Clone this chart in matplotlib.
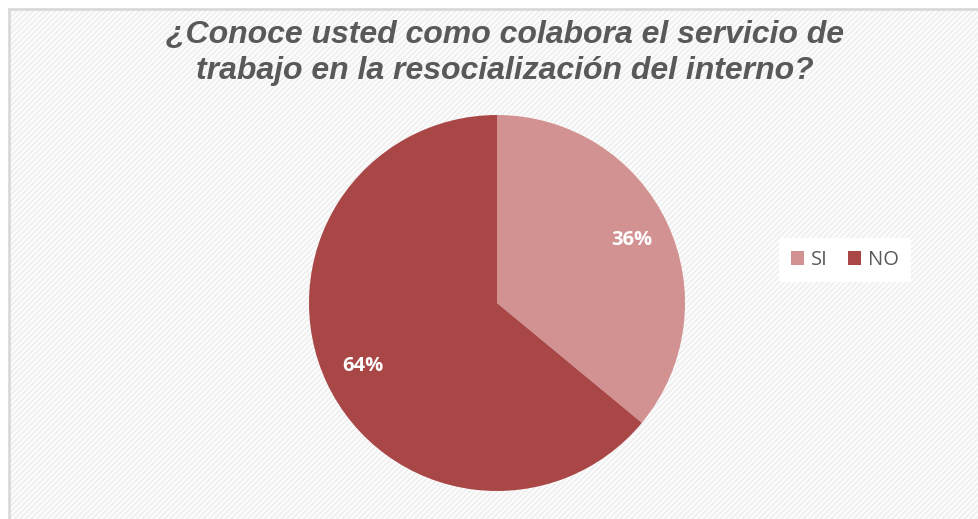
import matplotlib.pyplot as plt
from matplotlib.patches import Rectangle

# data
labels = ["SI", "NO"]
values = [36, 64]
colors = ["#d39292", "#a94646"]
title = "¿Conoce usted como colabora el servicio de\ntrabajo en la resocialización del interno?"

plt.rcParams["hatch.linewidth"] = 1.6

fig = plt.figure(figsize=(9.79, 5.19), dpi=100)
fig.patch.set_facecolor("white")

# chart area background with fine diagonal stripes
bg = Rectangle((9 / 979, 0), 1.0, 1 - 9 / 519, transform=fig.transFigure,
               facecolor="white", edgecolor="#f0f0f0", hatch="//////",
               linewidth=0, zorder=-2)
fig.patches.append(bg)
border = Rectangle((9 / 979, -0.01), 1.0, 1 - 9 / 519 + 0.01, transform=fig.transFigure,
                   facecolor="none", edgecolor="#d9d9d9", linewidth=2, zorder=-1)
fig.patches.append(border)

# pie axes: center (497, 303), radius ~188 px
r = 188
cx, cy = 497, 519 - 303
ax = fig.add_axes([(cx - r) / 979, (cy - r) / 519, 2 * r / 979, 2 * r / 519])
ax.set_facecolor("none")
ax.set_zorder(2)

wedges, texts, autotexts = ax.pie(
    values, colors=colors, startangle=90, counterclock=False,
    autopct="%1.0f%%", pctdistance=0.79,
    textprops=dict(color="white", fontsize=14.5, fontweight="bold", family="Open Sans"),
    wedgeprops=dict(linewidth=0),
)
ax.set_xlim(-1, 1)
ax.set_ylim(-1, 1)
ax.set_aspect("equal")

fig.text(0.516, 1 - 53 / 519, title, ha="center", va="center", fontsize=23,
         fontweight="bold", fontstyle="italic", color="#595959",
         family="Liberation Sans", linespacing=1.3)

leg = fig.legend(wedges, labels, loc="center", bbox_to_anchor=(845 / 979, 1 - 260 / 519),
                 ncol=2, frameon=True, fontsize=14.5, handlelength=0.65, handleheight=0.65,
                 handletextpad=0.35, columnspacing=1.0, borderpad=0.6)
leg.get_frame().set_facecolor("white")
leg.get_frame().set_edgecolor("none")
leg.get_frame().set_alpha(1)
leg.set_zorder(3)
for t in leg.get_texts():
    t.set_color("#595959")
    t.set_family("Open Sans")

fig.savefig("out.png", dpi=100, facecolor=fig.get_facecolor())
